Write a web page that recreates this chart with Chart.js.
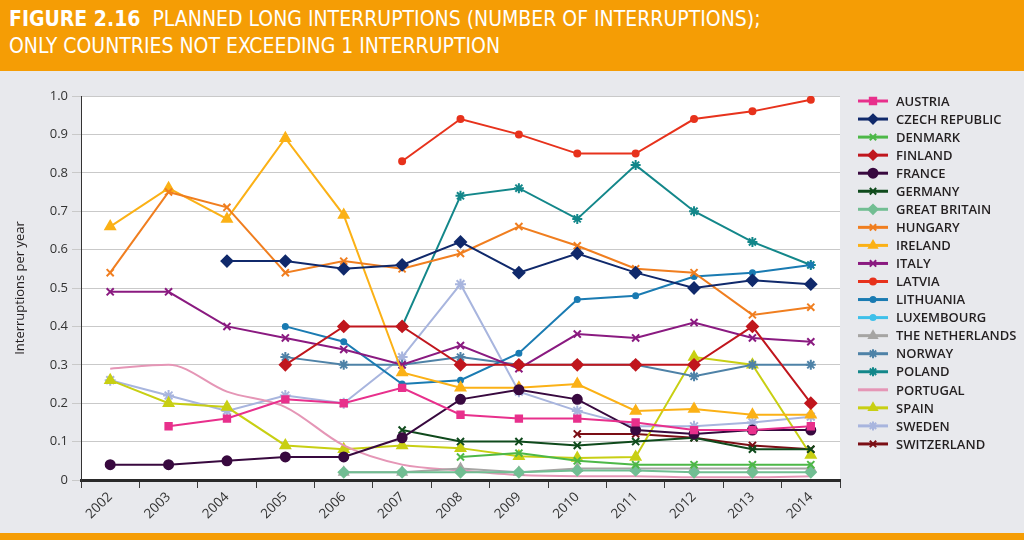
<!DOCTYPE html>
<html>
<head>
<meta charset="utf-8">
<script src="https://cdn.jsdelivr.net/npm/chart.js@4/dist/chart.umd.min.js"></script>
<style>
  html, body { margin: 0; padding: 0; width: 1024px; height: 540px; overflow: hidden; background: #e8e9ed; }
  #hdr { position: absolute; left: 0; top: 0; width: 1024px; height: 71px; background: #f59d05; color: #fff;
         font-family: 'Liberation Sans Narrow', 'DejaVu Sans Condensed', 'Open Sans', sans-serif; font-size: 21px; line-height: 27px; }
  #hdr .t { position: absolute; left: 9px; top: 6px; white-space: nowrap; }
  #hdr b { font-weight: bold; margin-right: 6px; }
  #foot { position: absolute; left: 0; top: 533px; width: 1024px; height: 7px; background: #f59d05; }
  #wrap { position: absolute; left: 0; top: 71px; width: 1024px; height: 462px; }
</style>
</head>
<body>
<div id="hdr"><div class="t"><b>FIGURE 2.16</b> PLANNED LONG INTERRUPTIONS (NUMBER OF INTERRUPTIONS);<br>ONLY COUNTRIES NOT EXCEEDING 1 INTERRUPTION</div></div>
<div id="wrap"><canvas id="c" width="1024" height="462"></canvas></div>
<div id="foot"></div>
<script>
const years = ['2002','2003','2004','2005','2006','2007','2008','2009','2010','2011','2012','2013','2014'];
const yTicks = [0, 0.1, 0.2, 0.3, 0.4, 0.5, 0.6, 0.7, 0.8, 0.9, 1.0];
const yTitle = 'Interruptions per year';
const n = null;

const austria     = [n, 0.14, 0.16, 0.21, 0.20, 0.24, 0.17, 0.16, 0.16, 0.15, 0.13, 0.13, 0.14];
const czech       = [n, n, 0.57, 0.57, 0.55, 0.56, 0.62, 0.54, 0.59, 0.54, 0.50, 0.52, 0.51];
const denmark     = [n, n, n, n, n, n, 0.06, 0.07, 0.05, 0.04, 0.04, 0.04, 0.04];
const finland     = [n, n, n, 0.30, 0.40, 0.40, 0.30, 0.30, 0.30, 0.30, 0.30, 0.40, 0.20];
const france      = [0.04, 0.04, 0.05, 0.06, 0.06, 0.11, 0.21, 0.235, 0.21, 0.13, 0.12, 0.13, 0.13];
const germany     = [n, n, n, n, n, 0.13, 0.10, 0.10, 0.09, 0.10, 0.11, 0.08, 0.08];
const greatBritain= [n, n, n, n, 0.02, 0.02, 0.02, 0.02, 0.025, 0.025, 0.02, 0.02, 0.02];
const hungary     = [0.54, 0.75, 0.71, 0.54, 0.57, 0.55, 0.59, 0.66, 0.61, 0.55, 0.54, 0.43, 0.45];
const ireland     = [0.66, 0.76, 0.68, 0.89, 0.69, 0.28, 0.24, 0.24, 0.25, 0.18, 0.185, 0.17, 0.17];
const italy       = [0.49, 0.49, 0.40, 0.37, 0.34, 0.30, 0.35, 0.29, 0.38, 0.37, 0.41, 0.37, 0.36];
const latvia      = [n, n, n, n, n, 0.83, 0.94, 0.90, 0.85, 0.85, 0.94, 0.96, 0.99];
const lithuania   = [n, n, n, 0.40, 0.36, 0.25, 0.26, 0.33, 0.47, 0.48, 0.53, 0.54, 0.56];
const luxembourg  = [n, n, n, n, n, n, n, n, n, n, n, n, n];
const netherlands = [n, n, n, n, 0.02, 0.02, 0.03, 0.02, 0.03, 0.03, 0.03, 0.03, 0.03];
const norway      = [n, n, n, 0.32, 0.30, 0.30, 0.32, 0.30, 0.30, 0.30, 0.27, 0.30, 0.30];
const poland      = [n, n, n, n, n, 0.40, 0.74, 0.76, 0.68, 0.82, 0.70, 0.62, 0.56];
const portugal    = [0.29, 0.30, 0.23, 0.19, 0.09, 0.04, 0.025, 0.013, 0.01, 0.01, 0.007, 0.007, 0.01];
const spain       = [0.26, 0.20, 0.19, 0.09, 0.08, 0.09, 0.083, 0.062, 0.057, 0.06, 0.32, 0.30, 0.065];
const sweden      = [0.26, 0.22, 0.18, 0.22, 0.20, 0.32, 0.51, 0.23, 0.18, 0.14, 0.14, 0.15, 0.165];
const switzerland = [n, n, n, n, n, n, n, n, 0.12, 0.12, 0.11, 0.09, 0.08];

const series = [
  ['AUSTRIA', austria, '#e8308c', 'rect', 4.5],
  ['CZECH REPUBLIC', czech, '#10296b', 'rectRot', 5.5],
  ['DENMARK', denmark, '#4db848', 'crossRot', 5],
  ['FINLAND', finland, '#c0161d', 'rectRot', 5.5],
  ['FRANCE', france, '#38093f', 'circle', 4.5],
  ['GERMANY', germany, '#0f4a1c', 'crossRot', 5],
  ['GREAT BRITAIN', greatBritain, '#72be93', 'rectRot', 5],
  ['HUNGARY', hungary, '#f07e1f', 'crossRot', 5],
  ['IRELAND', ireland, '#fbb116', 'triangle', 5.5],
  ['ITALY', italy, '#8a1a80', 'crossRot', 5],
  ['LATVIA', latvia, '#e7321c', 'circle', 3],
  ['LITHUANIA', lithuania, '#1a7bb2', 'circle', 2.5],
  ['LUXEMBOURG', luxembourg, '#3ec0ea', 'circle', 2.5],
  ['THE NETHERLANDS', netherlands, '#a6a5a3', 'triangle', 5],
  ['NORWAY', norway, '#4e82a7', 'star', 5],
  ['POLAND', poland, '#13878a', 'star', 5],
  ['PORTUGAL', portugal, '#e596b6', false, 0],
  ['SPAIN', spain, '#c8cf13', 'triangle', 5.5],
  ['SWEDEN', sweden, '#a8b5de', 'star', 5.5],
  ['SWITZERLAND', switzerland, '#7b0e15', 'crossRot', 5]
];

const datasets = series.map(([label, data, color, ps, r]) => ({
  label, data,
  borderColor: color, backgroundColor: color,
  pointStyle: ps || 'circle', pointRadius: r, pointHoverRadius: r,
  pointBorderWidth: 2, borderWidth: 2,
  cubicInterpolationMode: label === 'PORTUGAL' ? 'monotone' : 'default',
  tension: 0,
  spanGaps: false
}));

const FONT = "'Open Sans', sans-serif";

const legendPlugin = {
  id: 'customLegend',
  afterDraw(chart) {
    const ctx = chart.ctx;
    const x0 = 858, x1 = 888, tx = 896;
    let y = 30;
    ctx.save();
    chart.data.datasets.forEach(ds => {
      ctx.strokeStyle = ds.borderColor;
      ctx.lineWidth = 3;
      ctx.beginPath(); ctx.moveTo(x0, y); ctx.lineTo(x1, y); ctx.stroke();
      if (ds.pointRadius > 0) {
        ctx.fillStyle = ds.backgroundColor;
        ctx.strokeStyle = ds.borderColor;
        ctx.lineWidth = 2;
        Chart.helpers.drawPoint(ctx, { pointStyle: ds.pointStyle, radius: Math.min(ds.pointRadius, 4.5), borderWidth: 2, rotation: 0 }, (x0 + x1) / 2, y);
      }
      ctx.fillStyle = '#231f20';
      ctx.font = "600 13px " + FONT;
      ctx.textBaseline = 'middle';
      ctx.textAlign = 'left';
      ctx.fillText(ds.label, tx, y + 1);
      y += 18.05;
    });
    ctx.restore();
  }
};

const bgPlugin = {
  id: 'plotBg',
  beforeDraw(chart) {
    const { ctx, chartArea: a } = chart;
    ctx.save();
    ctx.fillStyle = '#ffffff';
    ctx.fillRect(a.left, a.top, a.right - a.left, a.bottom - a.top);
    ctx.restore();
  }
};

new Chart(document.getElementById('c'), {
  type: 'line',
  data: { labels: years, datasets },
  plugins: [bgPlugin, legendPlugin],
  options: {
    responsive: false,
    animation: false,
    layout: { padding: { left: 0, right: 184, top: 25, bottom: 0 } },
    plugins: { legend: { display: false }, tooltip: { enabled: false } },
    scales: {
      x: {
        offset: true,
        grid: { offset: true, drawOnChartArea: false, drawTicks: true, tickLength: 8, color: '#3a3a3a', lineWidth: 1 },
        border: { display: true, color: '#2a2a2a', width: 3 },
        ticks: { minRotation: 45, maxRotation: 45, color: '#333', font: { family: FONT, size: 13.5 }, padding: 1 },
        afterFit(s) { s.height = 53; }
      },
      y: {
        min: 0, max: 1,
        afterBuildTicks(s) { s.ticks = yTicks.map(v => ({ value: v })); },
        grid: { color: '#c9c9c9', lineWidth: 1, tickLength: 9, drawTicks: true },
        border: { display: true, color: '#333', width: 1 },
        ticks: {
          color: '#333', font: { family: FONT, size: 13 }, padding: 4,
          callback: v => v === 0 ? '0' : v.toFixed(1)
        },
        title: { display: true, text: yTitle, color: '#231f20', font: { family: FONT, size: 13 }, padding: { top: 12, bottom: 0 } },
        afterFit(s) { s.width = 81; }
      }
    }
  }
});
</script>
</body>
</html>
